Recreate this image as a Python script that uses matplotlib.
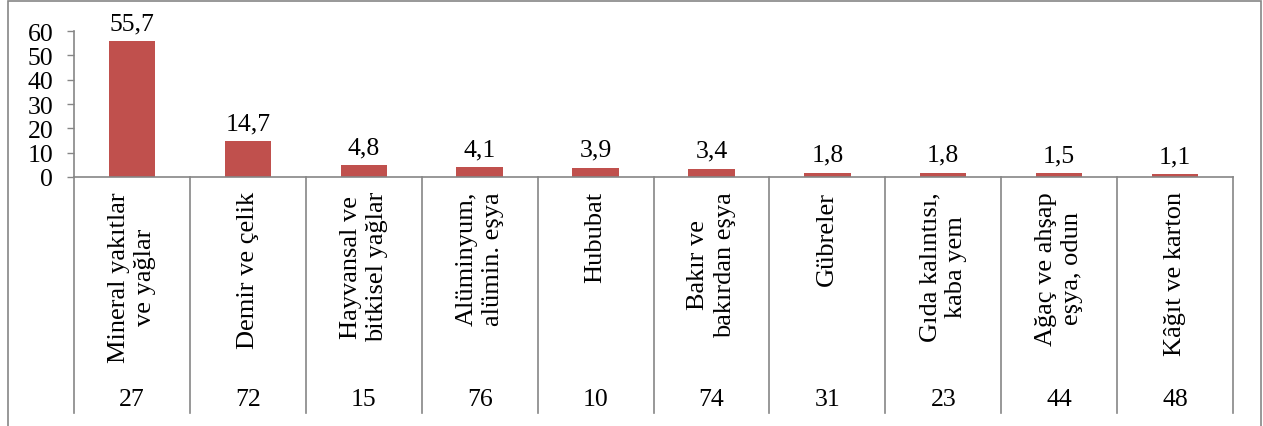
import matplotlib
matplotlib.use("Agg")
import matplotlib.pyplot as plt
import matplotlib.transforms as mtransforms
from matplotlib.patches import Rectangle

plt.rcParams['font.family'] = ['Liberation Serif', 'DejaVu Serif']

# data
categories = ["Mineral yakıtlar\nve yağlar", "Demir ve çelik", "Hayvansal ve\nbitkisel yağlar",
              "Alüminyum,\nalümin. eşya", "Hububat", "Bakır ve\nbakırdan eşya", "Gübreler",
              "Gıda kalıntısı,\nkaba yem", "Ağaç ve ahşap\neşya, odun", "Kâğıt ve karton"]
codes = ["27", "72", "15", "76", "10", "74", "31", "23", "44", "48"]
values = [55.7, 14.7, 4.8, 4.1, 3.9, 3.4, 1.8, 1.8, 1.5, 1.1]
value_labels = ["55,7", "14,7", "4,8", "4,1", "3,9", "3,4", "1,8", "1,8", "1,5", "1,1"]
yticks = [0, 10, 20, 30, 40, 50, 60]

W, H = 1263, 427
fig = plt.figure(figsize=(W / 100, H / 100), dpi=100)
ax = fig.add_axes([74 / W, 1 - 178 / H, (1233 - 74) / W, (178 - 32) / H])

gray = '#868686'
fs = 18.5

x = list(range(len(values)))
ax.bar(x, values, width=0.4, color='#C0504D')
for xi, v, lab in zip(x, values, value_labels):
    ax.annotate(lab, (xi, v), xytext=(0, 5), textcoords='offset points',
                ha='center', va='bottom', fontsize=fs)

ax.set_xlim(-0.5, len(values) - 0.5)
ax.set_ylim(0, 60)
ax.set_yticks(yticks)
ax.set_yticklabels([str(t) for t in yticks], fontsize=fs)
ax.set_xticks([])
ax.tick_params(axis='y', length=5, width=1, color=gray, pad=10)
for s in ['top', 'right']:
    ax.spines[s].set_visible(False)
for s in ['left', 'bottom']:
    ax.spines[s].set_color(gray)
    ax.spines[s].set_linewidth(1.2)

# multi-level category axis
trans = mtransforms.blended_transform_factory(ax.transData, ax.transAxes)
sep_bottom = (178 - 414) / (178 - 32)
for b in range(len(values) + 1):
    ax.plot([b - 0.5, b - 0.5], [0, sep_bottom], transform=trans, color=gray,
            lw=1.2, clip_on=False)
lab_top = (178 - 192) / (178 - 32)
code_y = (178 - 400) / (178 - 32)
for xi, cat, code in zip(x, categories, codes):
    ax.text(xi, lab_top, cat, transform=trans, rotation=90, ha='center', va='top',
            multialignment='center', fontsize=19, linespacing=1.25)
    ax.text(xi, code_y, code, transform=trans, ha='center', va='center', fontsize=fs)

# chart border
fig.patches.append(Rectangle((8 / W, -0.2), (1261 - 8) / W, 1.2 - 2 / H,
                             transform=fig.transFigure, fill=False,
                             edgecolor=gray, lw=1.2, clip_on=False))

fig.savefig('out.png', dpi=100)
